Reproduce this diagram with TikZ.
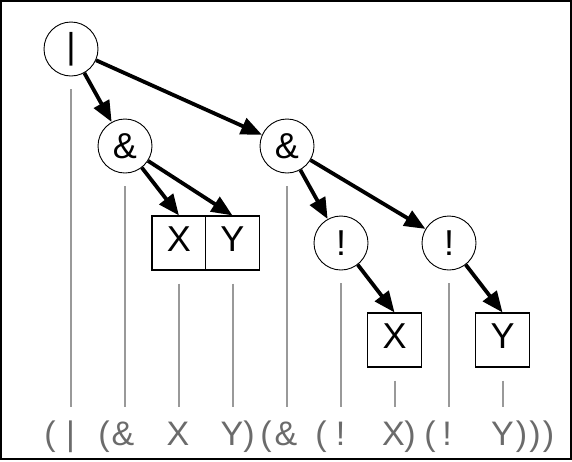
\documentclass[tikz,border=0pt]{standalone}
\usepackage{fontspec}
\setmainfont{Liberation Sans}
\usetikzlibrary{arrows.meta}
\tikzset{
	opnode/.style={circle,draw,fill=white,line width=0.9pt,minimum size=54pt,inner sep=0pt,font=\fontsize{36}{42}\selectfont},
	varnode/.style={rectangle,draw,fill=white,line width=1.1pt,minimum size=54pt,inner sep=0pt,text depth=7pt,font=\fontsize{36}{42}\selectfont},
	diredge/.style={-{Triangle[length=21pt,width=17pt]},line width=3.8pt},
	guide/.style={color=black!40,line width=2pt},
	tok/.style={anchor=base,inner sep=0pt,text=black!58,font=\fontsize{34}{40}\selectfont}
}

\begin{document}
\begin{tikzpicture}[x=1pt,y=-1pt]
	\useasboundingbox (0,0) rectangle (572,461);
	\draw[line width=1.5pt] (1,1) rectangle (571,459);
	
	%%operators
	\node[opnode] (root) at (71,49) {|};
	\node[opnode] (and1) at (125,146) {\&};
	\node[opnode] (and2) at (287,146) {\&};
	\node[opnode] (not1) at (341,243) {!};
	\node[opnode] (not2) at (449,243) {!};
	
	%%variables
	\node[varnode] (x1) at (179,243) {X};
	\node[varnode] (y1) at (232.5,243) {Y};
	\node[varnode] (x2) at (394.5,340) {X};
	\node[varnode] (y2) at (502.5,340) {Y};
	
	%%guide lines down to the text
	\coordinate (floor) at (0,407);
	\draw[guide] ([yshift=-13pt]root.south) -- (root.south |- floor);
	\draw[guide] ([yshift=-13pt]and1.south) -- (and1.south |- floor);
	\draw[guide] ([yshift=-13pt]x1.south) -- (x1.south |- floor);
	\draw[guide] ([yshift=-13pt]y1.south) -- (y1.south |- floor);
	\draw[guide] ([yshift=-13pt]and2.south) -- (and2.south |- floor);
	\draw[guide] ([yshift=-13pt]not1.south) -- (not1.south |- floor);
	\draw[guide] ([yshift=-13pt]x2.south) -- (x2.south |- floor);
	\draw[guide] ([yshift=-13pt]not2.south) -- (not2.south |- floor);
	\draw[guide] ([yshift=-13pt]y2.south) -- (y2.south |- floor);
	
	%%edges of the tree
	\draw[diredge] (root) -- (and1);
	\draw[diredge] (root) -- (and2);
	\draw[diredge] (and1) -- (x1.north);
	\draw[diredge] (and1) -- (y1.north);
	\draw[diredge] (and2) -- (not1);
	\draw[diredge] (and2) -- (not2);
	\draw[diredge] (not1) -- (x2.north);
	\draw[diredge] (not2) -- (y2.north);
	
	%%text of the formula
	\node[tok] (p1) at (50,445) {(};
	\node[tok] (t1) at (70.5,445) {|};
	\node[tok] (p2) at (104,445) {(};
	\node[tok] (t2) at (123,445) {\&};
	\node[tok] (t3) at (178,445) {X};
	\node[tok] (t4) at (232,445) {Y};
	\node[tok] (p3) at (249,445) {)};
	\node[tok] (p4) at (266,445) {(};
	\node[tok] (t5) at (286,445) {\&};
	\node[tok] (p5) at (321,445) {(};
	\node[tok] (t6) at (340.5,445) {!};
	\node[tok] (t7) at (393.5,445) {X};
	\node[tok] (p6) at (410,445) {)};
	\node[tok] (p7) at (430,445) {(};
	\node[tok] (t8) at (447,445) {!};
	\node[tok] (t9) at (502.5,445) {Y};
	\node[tok] (p8) at (521.5,445) {)};
	\node[tok] (p9) at (535,445) {)};
	\node[tok] (p10) at (548.5,445) {)};
	
\end{tikzpicture}
\end{document}
